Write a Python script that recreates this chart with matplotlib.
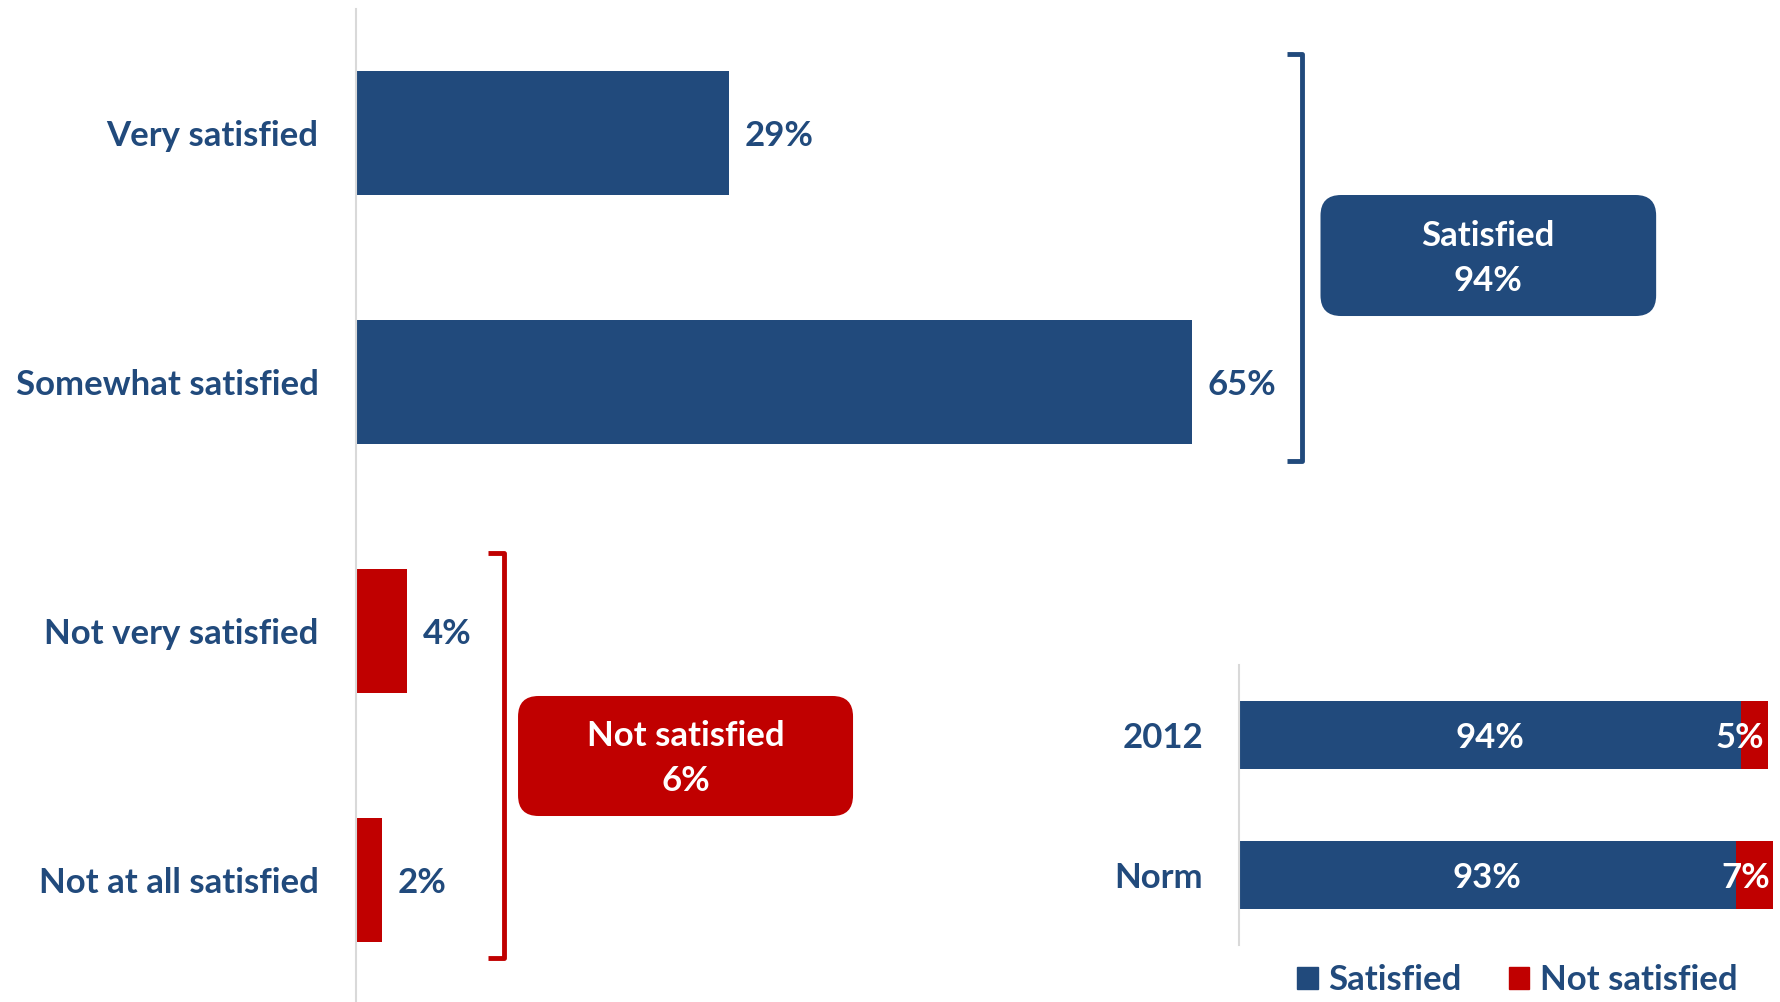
import matplotlib
matplotlib.use("Agg")
import matplotlib.pyplot as plt
from matplotlib.patches import FancyBboxPatch, Patch

plt.rcParams['font.family'] = ['Lato', 'DejaVu Sans']
plt.rcParams['font.weight'] = 'bold'

BLUE = '#214A7C'
RED = '#C00000'
GRAY = '#D9D9D9'

# main chart data
categories = ['Very satisfied', 'Somewhat satisfied', 'Not very satisfied', 'Not at all satisfied']
values = [29, 65, 4, 2]
bar_colors = [BLUE, BLUE, RED, RED]

# inset chart data
years = ['2012', 'Norm']
satisfied = [94, 93]
not_satisfied = [5, 7]

fs = 25

fig = plt.figure(figsize=(17.8, 10.02), dpi=100)

# ---- main bars
ax = fig.add_axes([356/1780, -2.5/1002, 1286/1780, 996/1002])
ypos = range(len(categories))
ax.barh(ypos, values, height=0.5, color=bar_colors)
ax.set_xlim(0, 100)
ax.set_ylim(3.5, -0.5)
ax.set_yticks(list(ypos))
ax.set_yticklabels(categories, fontsize=fs, color=BLUE, fontweight='bold')
ax.tick_params(axis='y', length=0, pad=27)
ax.set_xticks([])
for s in ['top', 'right', 'bottom']:
    ax.spines[s].set_visible(False)
ax.spines['left'].set_color(GRAY)
ax.spines['left'].set_linewidth(1.5)

for i, v in enumerate(values):
    ax.text(v + 1.2, i + 0.013, f'{v}%', va='center', ha='left', fontsize=fs, color=BLUE, fontweight='bold')

# brackets + summary boxes
sat_total = values[0] + values[1]
not_total = values[2] + values[3]
asp = 12.86 / 249


def bracket(x, y0, y1, color):
    tick = 1.2
    ax.plot([x - tick, x, x, x - tick], [y0, y0, y1, y1], color=color, lw=3.5,
            solid_joinstyle='round', solid_capstyle='butt', clip_on=False)


def box(x0, x1, yc, h, color, text):
    p = FancyBboxPatch((x0, yc - h/2), x1 - x0, h,
                       boxstyle='round,pad=0,rounding_size=1.6', mutation_aspect=asp,
                       facecolor=color, edgecolor='none', clip_on=False)
    ax.add_patch(p)
    ax.text((x0 + x1) / 2, yc + 0.012, text, ha='center', va='center', color='white',
            fontsize=fs, fontweight='bold', linespacing=1.5)


bracket(73.6, -0.317, 1.317, BLUE)
box(75.0, 101.1, 0.492, 0.486, BLUE, f'Satisfied\n{sat_total}%')
bracket(11.5, 1.687, 3.313, RED)
box(12.6, 38.65, 2.502, 0.482, RED, f'Not satisfied\n{not_total}%')

# ---- inset stacked bars
ax2 = fig.add_axes([1239/1780, 57/1002, 534/1780, 280/1002])
yp = range(len(years))
ax2.barh(yp, satisfied, height=0.49, color=BLUE, label='Satisfied')
ax2.barh(yp, not_satisfied, left=satisfied, height=0.49, color=RED, label='Not satisfied')
ax2.set_xlim(0, 100)
ax2.set_ylim(1.5, -0.5)
ax2.set_yticks(list(yp))
ax2.set_yticklabels(years, fontsize=fs, color=BLUE, fontweight='bold')
ax2.tick_params(axis='y', length=0, pad=26)
ax2.set_xticks([])
for s in ['top', 'right', 'bottom']:
    ax2.spines[s].set_visible(False)
ax2.spines['left'].set_color(GRAY)
ax2.spines['left'].set_linewidth(1.5)

for i in range(len(years)):
    ax2.text(satisfied[i] / 2, i + 0.022, f'{satisfied[i]}%', ha='center', va='center',
             color='white', fontsize=fs, fontweight='bold')
    ax2.text(satisfied[i] + not_satisfied[i] - 0.6, i + 0.022, f'{not_satisfied[i]}%', ha='right', va='center',
             color='white', fontsize=fs, fontweight='bold')

handles = [Patch(color=BLUE, label='Satisfied'), Patch(color=RED, label='Not satisfied')]
leg = fig.legend(handles=handles, loc='center left', bbox_to_anchor=(1297/1780, 22/1002),
                 ncol=2, frameon=False, fontsize=fs, handlelength=0.6, handleheight=0.6,
                 handletextpad=0.3, columnspacing=1.35, borderaxespad=0, borderpad=0)
for t in leg.get_texts():
    t.set_color(BLUE)

fig.savefig('out.png', dpi=100)
